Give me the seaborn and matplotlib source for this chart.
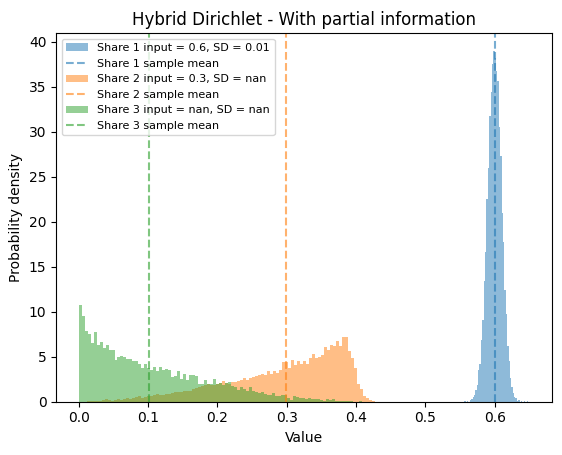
import numpy as np
import pandas as pd
import matplotlib
matplotlib.use("Agg")
import matplotlib.pyplot as plt
import seaborn as sns

# bin edges
edges_s1 = np.linspace(0.556, 0.650, 48)     # share 1
edges_s2 = np.linspace(0.004, 0.436, 101)    # share 2
edges_s3 = np.linspace(0.0, 0.43, 101)       # share 3

# density per bin, share 1 (input 0.6, SD 0.01)
dens_s1 = [0.05, 0.0, 0.1, 0.0, 0.2, 0.3, 0.5, 0.8, 1.3, 1.9,
           3.5, 4.2, 6.9, 9.1, 13.4, 16.6, 22.5, 26.0, 31.8, 34.4,
           37.5, 39.0, 38.2, 36.8, 35.6, 30.5, 27.3, 21.0, 17.7, 12.4,
           9.8, 6.2, 4.5, 2.6, 1.6, 1.0, 0.5, 0.4, 0.1, 0.2,
           0.0, 0.1, 0.0, 0.05, 0.0, 0.05, 0.0]

# density per bin, share 2 (input 0.3)
dens_s2 = [0.0, 0.0, 0.05, 0.1, 0.1, 0.1, 0.1, 0.15, 0.3, 0.2,
           0.1, 0.15, 0.3, 0.2, 0.35, 0.4, 0.3, 0.45, 0.5, 0.6,
           0.4, 0.5, 0.6, 0.65, 0.7, 0.85, 0.75, 0.8, 0.9, 0.85,
           1.0, 1.1, 1.05, 1.1, 1.15, 1.2, 1.25, 1.4, 1.5, 1.6,
           1.7, 1.9, 2.0, 1.85, 1.9, 1.95, 2.1, 2.3, 2.1, 2.0,
           2.2, 2.2, 2.3, 2.4, 2.6, 2.4, 2.6, 2.8, 2.9, 3.0,
           3.1, 3.0, 3.4, 3.1, 3.4, 3.25, 3.55, 4.45, 4.45, 3.8,
           4.65, 4.1, 4.5, 4.15, 4.5, 4.2, 4.9, 5.3, 4.9, 4.95,
           5.2, 6.1, 5.8, 6.3, 6.2, 6.8, 6.2, 7.2, 7.2, 5.6,
           4.9, 3.8, 2.0, 1.4, 0.6, 0.4, 0.2, 0.05, 0.0, 0.0]

# density per bin, share 3 (no input)
dens_s3 = [10.7, 9.5, 7.9, 7.5, 6.5, 7.8, 6.3, 6.6, 6.0, 6.3,
           5.7, 5.7, 4.6, 5.0, 5.1, 5.0, 4.7, 4.7, 4.5, 4.5,
           4.2, 3.7, 4.2, 3.7, 3.5, 3.9, 3.4, 3.9, 3.5, 3.6,
           3.5, 2.7, 2.9, 3.4, 2.5, 3.1, 2.4, 3.0, 3.0, 2.9,
           2.0, 2.0, 2.4, 2.0, 2.0, 2.5, 1.95, 2.05, 1.9, 2.05,
           2.2, 1.8, 1.6, 1.3, 1.6, 1.4, 1.25, 1.6, 1.25, 1.1,
           1.0, 1.05, 0.85, 0.8, 0.8, 1.0, 0.6, 0.6, 0.8, 0.75,
           0.4, 0.25, 0.6, 0.5, 0.4, 0.45, 0.35, 0.4, 0.3, 0.35,
           0.3, 0.2, 0.1, 0.3, 0.25, 0.35, 0.1, 0.1, 0.1, 0.1,
           0.05, 0.1, 0.02, 0.0, 0.03, 0.0, 0.0, 0.0, 0.0, 0.0]

hist_labels = ["Share 1 input = 0.6, SD = 0.01",
               "Share 2 input = 0.3, SD = nan",
               "Share 3 input = nan, SD = nan"]
mean_labels = ["Share 1 sample mean", "Share 2 sample mean", "Share 3 sample mean"]
sample_means = [0.600, 0.2985, 0.1015]

fig, ax = plt.subplots(figsize=(5.62, 4.55), dpi=100)
fig.subplots_adjust(left=0.1, right=0.982, top=0.927, bottom=0.117)

shares = [(edges_s1, dens_s1), (edges_s2, dens_s2), (edges_s3, dens_s3)]

handles = []
for i, (edges, dens) in enumerate(shares):
    df = pd.DataFrame({"value": (edges[:-1] + edges[1:]) / 2, "density": dens})
    sns.histplot(data=df, x="value", weights="density", bins=list(edges),
                 stat="count", color="C%d" % i, alpha=0.5, linewidth=0,
                 label=hist_labels[i], ax=ax)
    bar_handle = ax.patches[-1]
    line = ax.axvline(sample_means[i], color="C%d" % i, linestyle="--",
                      alpha=0.6, label=mean_labels[i])
    handles += [bar_handle, line]

labels = []
for i in range(3):
    labels += [hist_labels[i], mean_labels[i]]

ax.set_title("Hybrid Dirichlet - With partial information")
ax.set_xlabel("Value")
ax.set_ylabel("Probability density")
ax.legend(handles, labels, loc="upper left", fontsize=8)

fig.savefig("out.png", dpi=100)
